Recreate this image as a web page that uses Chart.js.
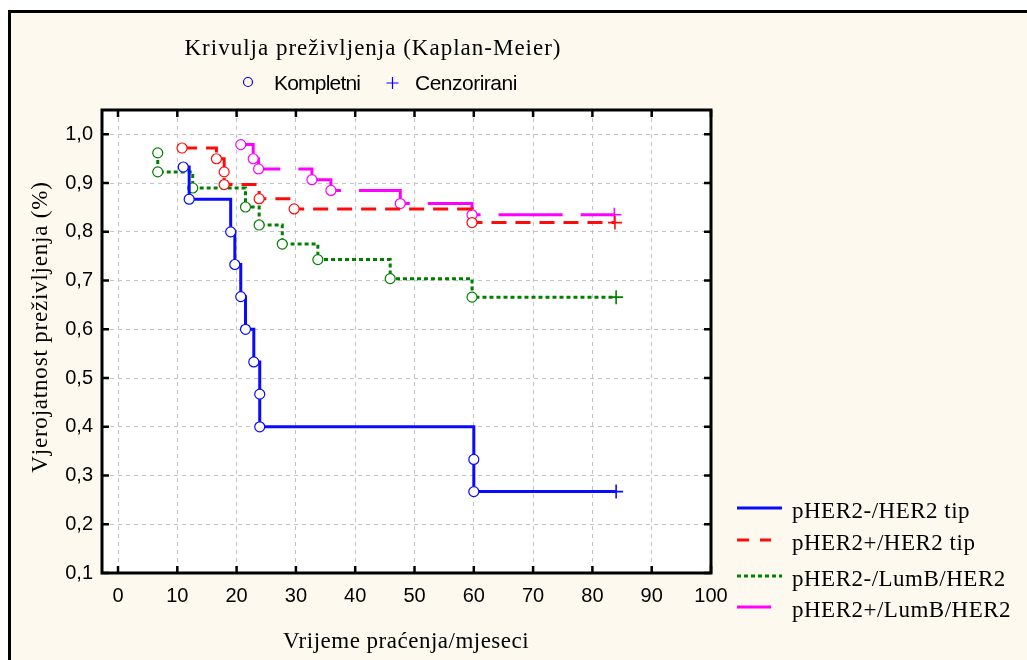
<!DOCTYPE html>
<html>
<head>
<meta charset="utf-8">
<title>Krivulja preživljenja</title>
<script src="https://cdn.jsdelivr.net/npm/chart.js@4.4.1/dist/chart.umd.min.js"></script>
<style>
  html, body { margin: 0; padding: 0; background: #fff; }
  canvas { display: block; }
</style>
</head>
<body>
<canvas id="kmChart" width="1027" height="660"></canvas>
<script>
const groupLabels = ["pHER2-/HER2 tip", "pHER2+/HER2 tip", "pHER2-/LumB/HER2", "pHER2+/LumB/HER2"];
const groupColors = ["#0a0aff", "#ff0a0a", "#008000", "#ff00ff"];

// months at each event + survival after it; the last entry is the censored case
const her2NegTimes = [11, 12, 19, 19.7, 20.7, 21.5, 22.9, 23.9, 23.9, 60, 60, 84];
const her2NegSurv = [0.933, 0.867, 0.8, 0.733, 0.667, 0.6, 0.533, 0.467, 0.4, 0.333, 0.267, 0.267];

const her2PosTimes = [10.8, 16.6, 17.9, 17.9, 23.8, 29.7, 59.7, 83.8];
const her2PosSurv = [0.972, 0.95, 0.923, 0.897, 0.868, 0.847, 0.819, 0.819];

const lumbNegTimes = [6.7, 6.7, 12.6, 21.5, 23.8, 27.7, 33.7, 45.9, 59.7, 84];
const lumbNegSurv = [0.962, 0.923, 0.89, 0.851, 0.814, 0.775, 0.743, 0.704, 0.666, 0.666];

const lumbPosTimes = [20.7, 22.8, 23.7, 32.7, 35.9, 47.6, 59.7, 83.7];
const lumbPosSurv = [0.979, 0.95, 0.929, 0.907, 0.885, 0.858, 0.835, 0.835];

const xTicks = [0, 10, 20, 30, 40, 50, 60, 70, 80, 90, 100];
const yTicks = [0.1, 0.2, 0.3, 0.4, 0.5, 0.6, 0.7, 0.8, 0.9, 1.0];

const SERIF = "'Liberation Serif', 'Times New Roman', serif";
const SANS = "'Liberation Sans', Arial, sans-serif";
const CREAM = "rgb(253, 249, 238)";

Chart.defaults.font.family = SANS;

const makeDataset = (idx, times, surv, dash) => {
  const last = times.length - 1;
  return {
    label: groupLabels[idx],
    data: times.map((t, i) => ({ x: t, y: surv[i] })),
    stepped: "before",
    borderColor: groupColors[idx],
    borderWidth: 3,
    borderDash: dash,
    pointStyle: (ctx) => (ctx.dataIndex === last ? "cross" : "circle"),
    pointRadius: (ctx) => (ctx.dataIndex === last ? 7 : 5),
    pointBorderWidth: (ctx) => (ctx.dataIndex === last ? 1.6 : 1.2),
    pointBackgroundColor: "#fff",
    pointBorderColor: groupColors[idx],
  };
};

const fillText = (ctx, text, x, y, font, align, spacing) => {
  ctx.font = font;
  ctx.textAlign = align || "left";
  ctx.textBaseline = "alphabetic";
  if ("letterSpacing" in ctx) ctx.letterSpacing = (spacing || 0) + "px";
  ctx.fillText(text, x, y);
  if ("letterSpacing" in ctx) ctx.letterSpacing = "0px";
};

const kmDecor = {
  id: "kmDecor",
  beforeDraw(chart) {
    const { ctx, chartArea: a, width, height } = chart;
    ctx.save();
    ctx.fillStyle = "#fff";
    ctx.fillRect(0, 0, width, height);
    ctx.fillStyle = CREAM;
    ctx.fillRect(10, 12, width, height);
    ctx.fillStyle = "#fff";
    ctx.fillRect(a.left, a.top, a.right - a.left, a.bottom - a.top);
    ctx.restore();
  },
  afterDraw(chart) {
    const { ctx, chartArea: a, scales } = chart;
    ctx.save();

    // outer frame
    ctx.strokeStyle = "#000";
    ctx.lineWidth = 3;
    ctx.strokeRect(9.5, 11.5, 1100, 1100);

    // plot box
    ctx.strokeRect(a.left, a.top, a.right - a.left, a.bottom - a.top);

    // inward tick marks
    ctx.lineWidth = 2.5;
    ctx.beginPath();
    yTicks.forEach((v) => {
      const y = scales.y.getPixelForValue(v);
      ctx.moveTo(a.left, y);
      ctx.lineTo(a.left + 7, y);
      ctx.moveTo(a.right, y);
      ctx.lineTo(a.right - 7, y);
    });
    xTicks.forEach((v) => {
      const x = scales.x.getPixelForValue(v);
      ctx.moveTo(x, a.bottom);
      ctx.lineTo(x, a.bottom - 7);
      ctx.moveTo(x, a.top);
      ctx.lineTo(x, a.top + 7);
    });
    ctx.stroke();

    // title and marker key
    ctx.fillStyle = "#000";
    fillText(ctx, "Krivulja preživljenja (Kaplan-Meier)", 373, 55, "23px " + SERIF, "center", 1);
    ctx.strokeStyle = "#0000ff";
    ctx.lineWidth = 1.2;
    ctx.beginPath();
    ctx.arc(248, 82, 4.5, 0, Math.PI * 2);
    ctx.stroke();
    ctx.beginPath();
    ctx.moveTo(386.5, 83);
    ctx.lineTo(398.5, 83);
    ctx.moveTo(392.5, 77);
    ctx.lineTo(392.5, 89);
    ctx.stroke();
    fillText(ctx, "Kompletni", 274, 90, "21px " + SANS, "left", -0.8);
    fillText(ctx, "Cenzorirani", 415, 90, "21px " + SANS, "left", -0.5);

    // axis titles
    fillText(ctx, "Vrijeme praćenja/mjeseci", 406, 648, "23px " + SERIF, "center", 0.5);
    ctx.save();
    ctx.translate(47, 327);
    ctx.rotate(-Math.PI / 2);
    fillText(ctx, "Vjerojatnost preživljenja (%)", 0, 0, "23px " + SERIF, "center", 0.8);
    ctx.restore();

    // series key
    const rows = [518, 550, 586, 617];
    const samples = [
      { dash: [], len: 45 },
      { dash: [12, 11], len: 34 },
      { dash: [4, 3], len: 45 },
      { dash: [], len: 34 },
    ];
    groupLabels.forEach((label, i) => {
      const y = rows[i] - 10;
      ctx.strokeStyle = groupColors[i];
      ctx.lineWidth = 3;
      ctx.setLineDash(samples[i].dash);
      ctx.beginPath();
      ctx.moveTo(737, y);
      ctx.lineTo(737 + samples[i].len, y);
      ctx.stroke();
      ctx.setLineDash([]);
      ctx.fillStyle = "#000";
      fillText(ctx, label, 792, rows[i], "23px " + SERIF, "left", 0.5);
    });

    ctx.restore();
  },
};

new Chart(document.getElementById("kmChart").getContext("2d"), {
  type: "line",
  data: {
    datasets: [
      makeDataset(0, her2NegTimes, her2NegSurv, []),
      makeDataset(1, her2PosTimes, her2PosSurv, [15, 9]),
      makeDataset(2, lumbNegTimes, lumbNegSurv, [4, 3]),
      makeDataset(3, lumbPosTimes, lumbPosSurv, [64, 18]),
    ],
  },
  options: {
    responsive: false,
    devicePixelRatio: 1,
    animation: false,
    events: [],
    layout: { padding: { top: 110, right: 316, left: 0, bottom: 0 } },
    plugins: {
      legend: { display: false },
      title: { display: false },
      tooltip: { enabled: false },
    },
    scales: {
      x: {
        type: "linear",
        min: -2.7,
        max: 100,
        afterBuildTicks: (scale) => {
          scale.ticks = xTicks.map((v) => ({ value: v }));
        },
        afterFit: (scale) => {
          scale.height = 87;
        },
        grid: { color: "#c4c4c4", lineWidth: 1, drawTicks: false },
        border: { display: false, dash: [4, 4] },
        ticks: {
          color: "#000",
          padding: 11,
          autoSkip: false,
          maxRotation: 0,
          font: { size: 20 },
        },
      },
      y: {
        type: "linear",
        min: 0.1,
        max: 1.05,
        afterBuildTicks: (scale) => {
          scale.ticks = yTicks.map((v) => ({ value: v }));
        },
        afterFit: (scale) => {
          scale.width = 102;
        },
        grid: { color: "#c4c4c4", lineWidth: 1, drawTicks: false },
        border: { display: false, dash: [4, 4] },
        ticks: {
          color: "#000",
          padding: 9,
          autoSkip: false,
          font: { size: 20 },
          callback: (v) => v.toFixed(1).replace(".", ","),
        },
      },
    },
  },
  plugins: [kmDecor],
});
</script>
</body>
</html>
